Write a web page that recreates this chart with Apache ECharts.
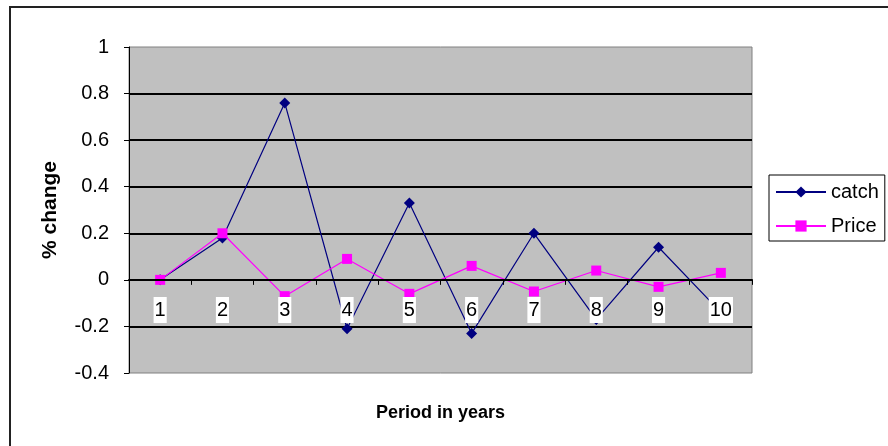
<!DOCTYPE html>
<html>
<head>
<meta charset="utf-8">
<script src="https://cdn.jsdelivr.net/npm/echarts@6/dist/echarts.min.js"></script>
<style>
  html, body { margin: 0; padding: 0; background: #fff; }
  #chart { width: 888px; height: 446px; }
</style>
</head>
<body>
<div id="chart"></div>
<script>
// Yearly % change in catch and price
const periods = ['1', '2', '3', '4', '5', '6', '7', '8', '9', '10'];
const catchChange = [0, 0.18, 0.76, -0.21, 0.33, -0.23, 0.20, -0.17, 0.14, -0.14];
const priceChange = [0, 0.20, -0.07, 0.09, -0.06, 0.06, -0.05, 0.04, -0.03, 0.03];
const yTicks = { min: -0.4, max: 1, step: 0.2 };

const FONT = "'Liberation Sans', Arial, sans-serif";

const chart = echarts.init(document.getElementById('chart'), null, { renderer: 'canvas' });

chart.setOption({
  animation: false,
  backgroundColor: '#ffffff',
  textStyle: { fontFamily: FONT },
  graphic: [{
    type: 'rect',
    silent: true,
    z: -1,
    shape: { x: 10, y: 7, width: 900, height: 460 },
    style: { fill: 'none', stroke: '#222', lineWidth: 2 }
  }],
  grid: {
    left: 129, right: 136, top: 47, bottom: 73,
    outerBoundsMode: 'none',
    containLabel: false,
    show: true,
    backgroundColor: '#C0C0C0',
    borderColor: '#808080',
    borderWidth: 1
  },
  legend: {
    orient: 'vertical',
    left: 769, top: 175,
    padding: [7, 6, 5, 6],
    itemWidth: 50, itemHeight: 14, itemGap: 14,
    borderColor: '#000', borderWidth: 1,
    backgroundColor: '#fff',
    textStyle: { fontFamily: FONT, fontSize: 20, color: '#000', lineHeight: 20 },
    data: ['catch', 'Price']
  },
  xAxis: {
    type: 'category',
    data: periods,
    z: 10,
    name: 'Period in years',
    nameLocation: 'middle',
    nameGap: 31,
    nameTextStyle: { fontFamily: FONT, fontSize: 18, fontWeight: 'bold', color: '#000' },
    axisLine: { onZero: true, lineStyle: { color: '#000', width: 2 } },
    axisTick: { show: true, length: 5, inside: false, lineStyle: { color: '#000', width: 1 } },
    axisLabel: {
      margin: -76,
      fontFamily: FONT, fontSize: 20, color: '#000',
      backgroundColor: '#fff',
      padding: [4, 1, 3, 1],
      lineHeight: 19
    },
    splitLine: { show: false }
  },
  yAxis: {
    type: 'value',
    min: yTicks.min, max: yTicks.max, interval: yTicks.step,
    name: '% change',
    nameLocation: 'middle',
    nameRotate: 90,
    nameGap: 68,
    nameTextStyle: { fontFamily: FONT, fontSize: 21, fontWeight: 'bold', color: '#000' },
    axisLine: { show: true, lineStyle: { color: '#000', width: 1 } },
    axisTick: { show: true, length: 5, lineStyle: { color: '#000' } },
    axisLabel: {
      margin: 20,
      fontFamily: FONT, fontSize: 20, color: '#000',
      formatter: v => String(+v.toFixed(1))
    },
    splitLine: { show: true, showMinLine: false, showMaxLine: false, lineStyle: { color: '#000', width: 2 } }
  },
  series: [
    {
      name: 'catch',
      type: 'line',
      data: catchChange,
      symbol: 'diamond',
      symbolSize: 11,
      showAllSymbol: true,
      itemStyle: { color: '#000080' },
      lineStyle: { color: '#000080', width: 1.2 },
      z: 3
    },
    {
      name: 'Price',
      type: 'line',
      data: priceChange,
      symbol: 'rect',
      symbolSize: 10,
      showAllSymbol: true,
      itemStyle: { color: '#FF00FF' },
      lineStyle: { color: '#FF00FF', width: 1.2 },
      z: 4
    }
  ]
});
</script>
</body>
</html>
